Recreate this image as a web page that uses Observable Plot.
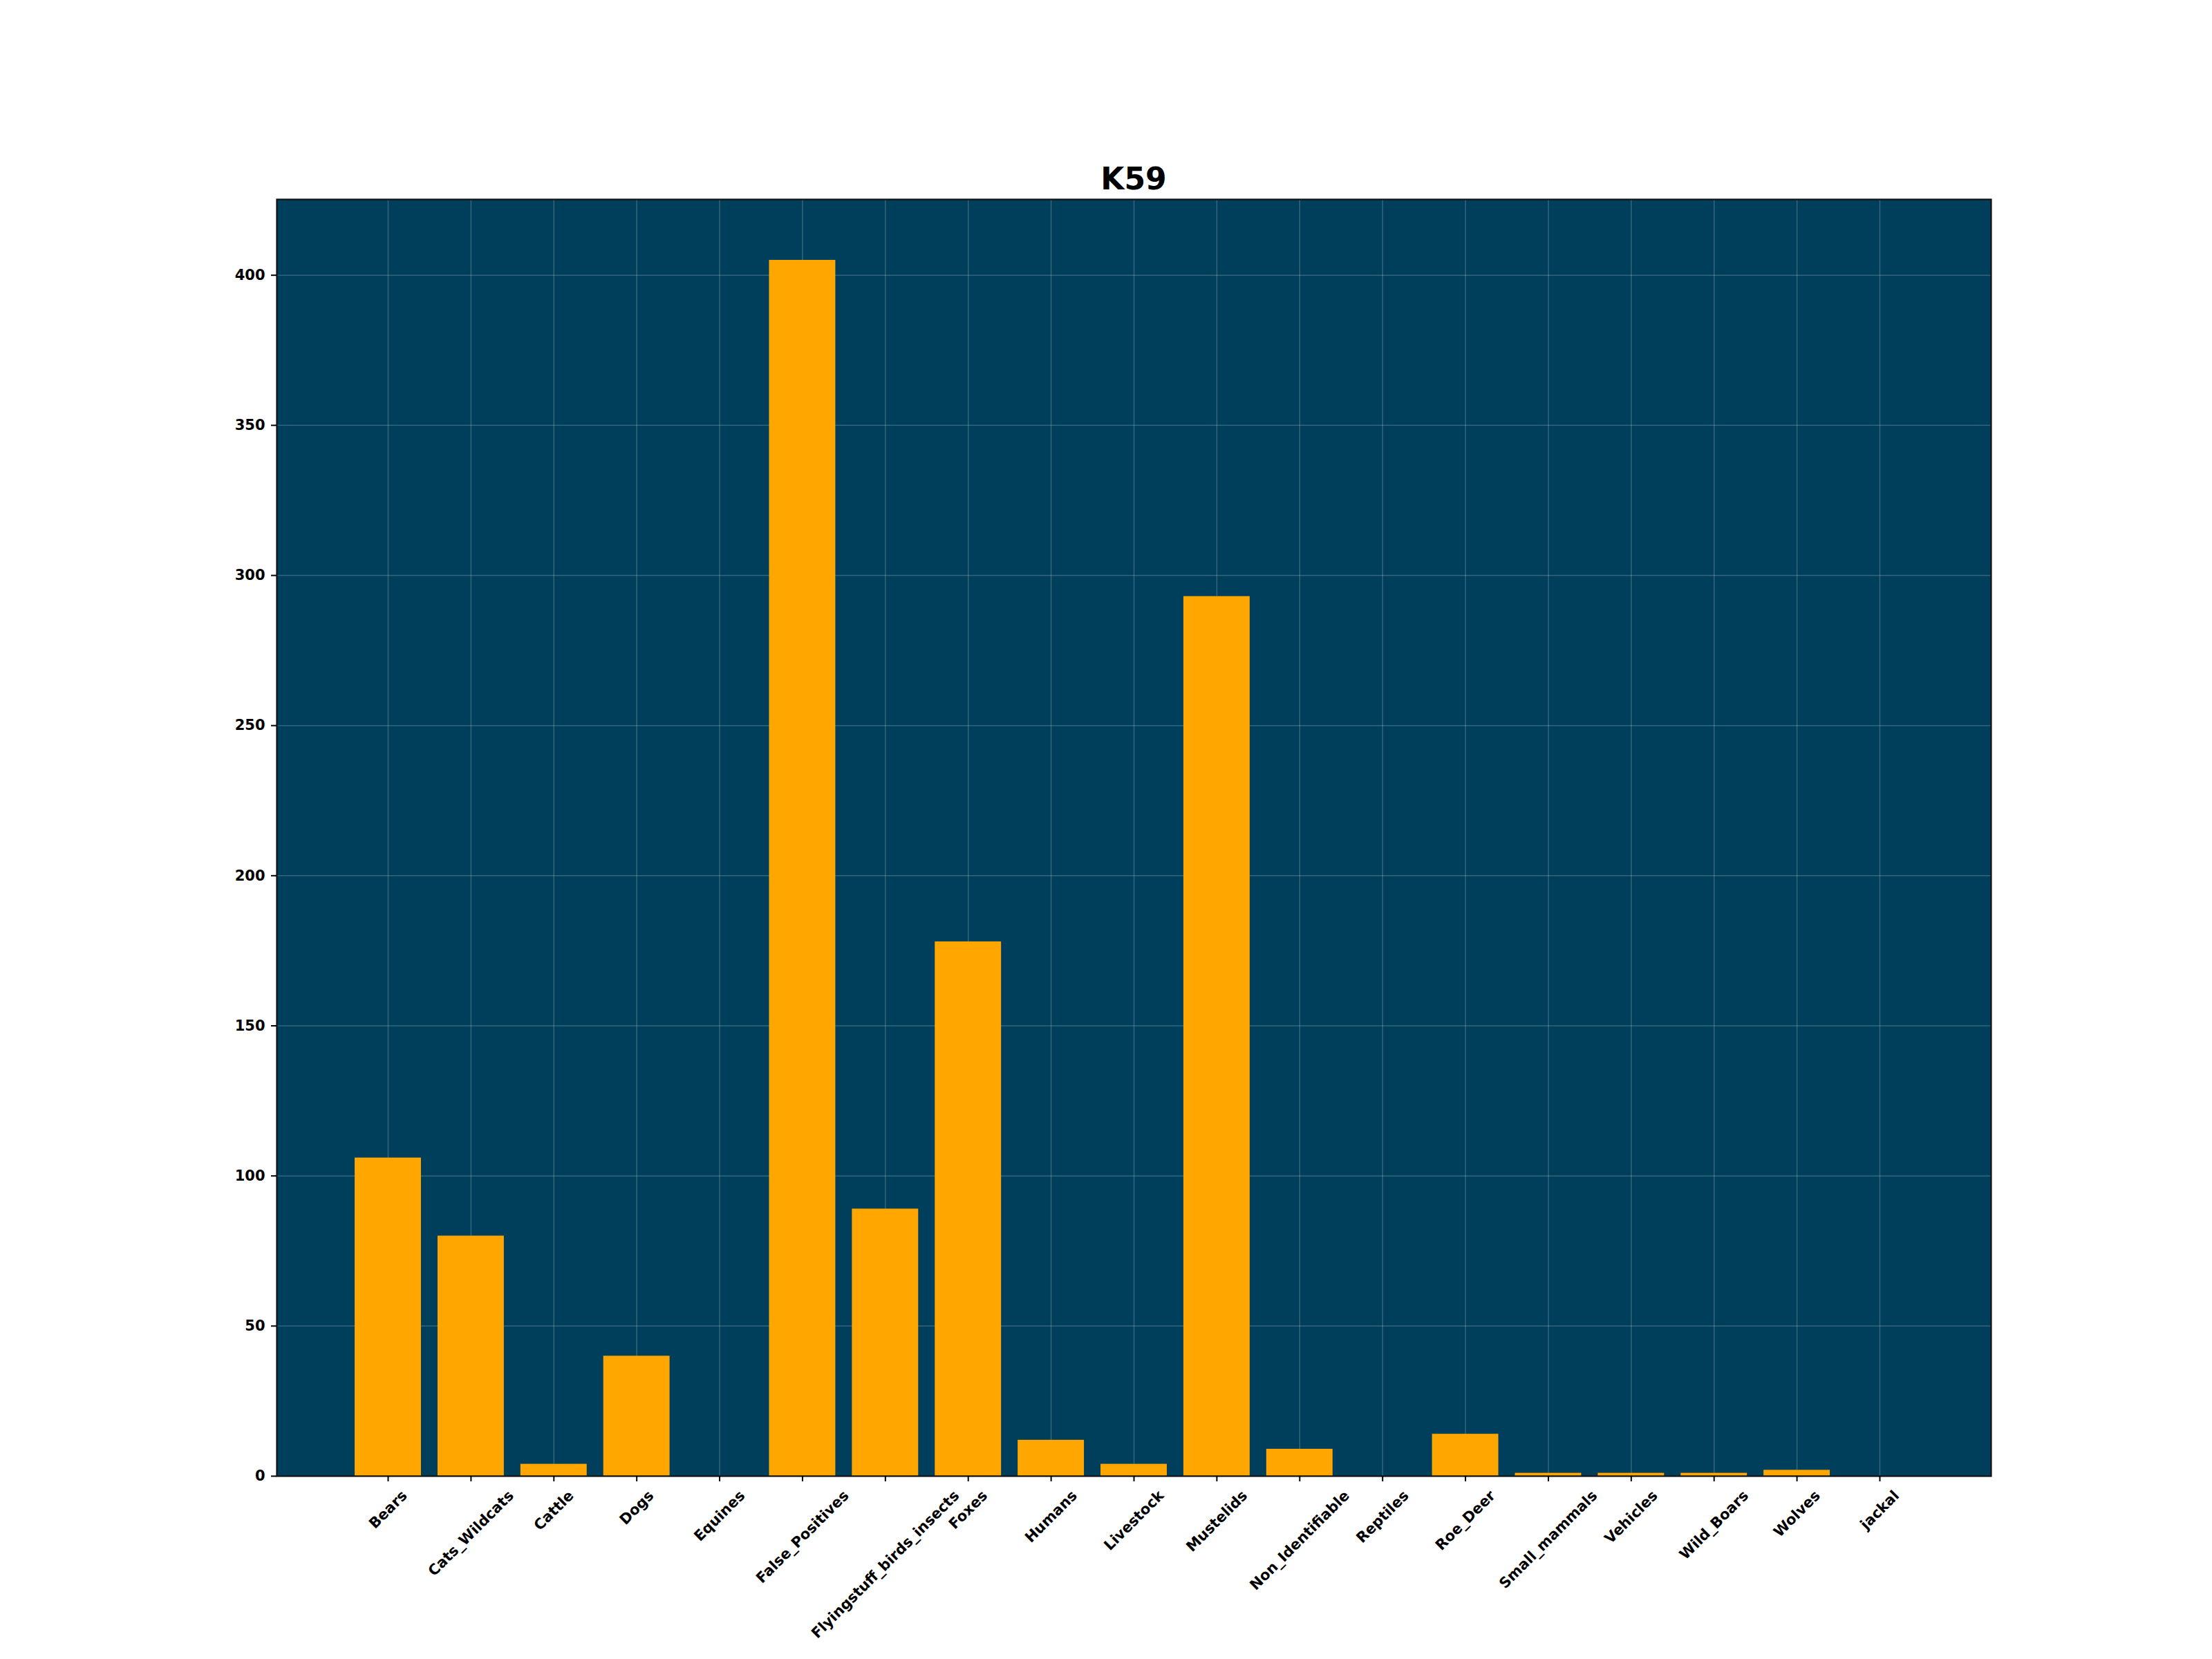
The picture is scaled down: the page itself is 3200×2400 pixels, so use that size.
<!DOCTYPE html>
<html>
<head>
<meta charset="utf-8">
<script src="https://cdn.jsdelivr.net/npm/d3@7"></script>
<script src="https://cdn.jsdelivr.net/npm/@observablehq/plot@0.6"></script>
<style>
  html, body { margin: 0; padding: 0; background: #ffffff; }
  #wrap { width: 3200px; height: 2400px; position: relative; font-family: "DejaVu Sans", sans-serif; overflow: hidden; }
  #titlebox { position: relative; width: 3200px; height: 250px; }
  #title { position: absolute; left: 400px; width: 2480px; top: 237px; text-align: center;
           font-size: 44px; line-height: 44px; font-weight: bold; color: #000; }
  #chart svg { display: block; }
</style>
</head>
<body>
<div id="wrap">
  <div id="titlebox"><div id="title"></div></div>
  <div id="chart"></div>
</div>
<script>
const titleText = "K59";
const categories = ["Bears", "Cats_Wildcats", "Cattle", "Dogs", "Equines", "False_Positives",
  "Flyingstuff_birds_insects", "Foxes", "Humans", "Livestock", "Mustelids", "Non_Identifiable",
  "Reptiles", "Roe_Deer", "Small_mammals", "Vehicles", "Wild_Boars", "Wolves", "jackal"];
const counts = [106, 80, 4, 40, 0, 405, 89, 178, 12, 4, 293, 9, 0, 14, 1, 1, 1, 2, 0];
const yTicks = [0, 50, 100, 150, 200, 250, 300, 350, 400];

const bg = "#003f5c";
const barColor = "#ffa600";

document.getElementById("title").textContent = titleText;

const data = categories.map((c, i) => ({category: c, count: counts[i]}));
const yMax = d3.max(counts) * 1.05;

const chart = Plot.plot({
  width: 3200,
  height: 2150,
  marginTop: 38,
  marginBottom: 265,
  marginLeft: 400,
  marginRight: 320,
  style: {fontFamily: "DejaVu Sans, sans-serif", fontSize: "21px", fontWeight: "bold", background: "transparent", color: "#000"},
  x: {type: "band", domain: categories, paddingInner: 0.2, paddingOuter: 0.943, round: false, label: null},
  y: {domain: [0, yMax], label: null},
  marks: [
    Plot.frame({fill: bg, stroke: null}),
    Plot.gridY(yTicks, {stroke: "#ffffff", strokeOpacity: 0.2, strokeWidth: 1.5}),
    Plot.gridX(categories, {stroke: "#ffffff", strokeOpacity: 0.2, strokeWidth: 1.5}),
    Plot.barY(data, {x: "category", y: "count", fill: barColor}),
    Plot.frame({stroke: "#111111", strokeWidth: 2.2, fill: null}),
    Plot.axisY({ticks: yTicks, tickSize: 8, tickPadding: 9, strokeWidth: 2, fontSize: 21, fontWeight: "bold", tickFormat: d => String(d), label: null}),
    Plot.axisX({tickSize: 8, strokeWidth: 2, tickFormat: () => "", label: null}),
    Plot.text(categories, {x: d => d, frameAnchor: "bottom", rotate: -45, textAnchor: "middle",
      lineAnchor: "middle", fontSize: 21, fontWeight: "bold", fill: "#000"})
  ]
});

document.getElementById("chart").appendChild(chart);

// push each rotated x label down so its bounding box is centred under its tick,
// with the box top just below the tick (as matplotlib lays out rotated tick labels)
const ctx = document.createElement("canvas").getContext("2d");
ctx.font = "bold 21px 'DejaVu Sans'";
const labelHeight = 21 * 1.17;
const catSet = new Set(categories);
const ns = "http://www.w3.org/2000/svg";
Array.from(chart.querySelectorAll("text"))
  .filter(t => catSet.has(t.textContent.trim()))
  .forEach(t => {
    let L = 0;
    try { L = t.getComputedTextLength(); } catch (e) { L = 0; }
    if (!(L > 0)) L = ctx.measureText(t.textContent.trim()).width;
    const shift = 16 + (L + labelHeight) / (2 * Math.SQRT2);
    const g = document.createElementNS(ns, "g");
    g.setAttribute("transform", `translate(0,${shift})`);
    t.parentNode.insertBefore(g, t);
    g.appendChild(t);
  });
</script>
</body>
</html>
